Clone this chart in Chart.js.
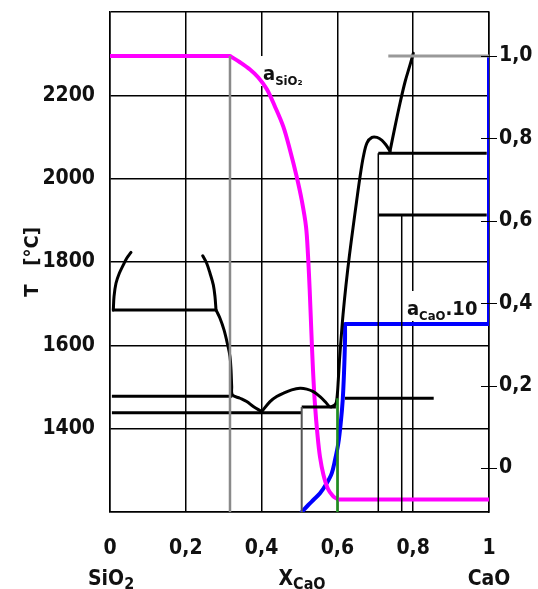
<!DOCTYPE html>
<html lang="ru">
<head>
	<meta charset="UTF-8" />
	<title>CaO - SiO2</title>
	<script src="https://cdn.jsdelivr.net/npm/chart.js"></script>
	<style>
		body { margin: 0; background: #fff; }
		canvas { display: block; }
	</style>
</head>
<body>
	<canvas id="myChart" width="538" height="589"></canvas>

	<script>
		// ticks
		const xTicks = [0, 0.2, 0.4, 0.6, 0.8, 1];
		const xTickLabels = ['0', '0,2', '0,4', '0,6', '0,8', '1'];
		const tempTicks = [1400, 1600, 1800, 2000, 2200];
		const actTicks = [0, 0.2, 0.4, 0.6, 0.8, 1.0];
		const actTickLabels = ['0', '0,2', '0,4', '0,6', '0,8', '1,0'];

		// phase diagram, [X_CaO, T degC]
		const gapLeft = [[0.0088, 1685], [0.0106, 1717], [0.0158, 1749], [0.0246, 1773], [0.0352, 1793], [0.0441, 1809], [0.0554, 1823]];
		const gapRight = [[0.2446, 1815], [0.2551, 1797], [0.2639, 1773], [0.2726, 1745], [0.2770, 1717], [0.2797, 1685]];
		const liqSilica = [[0.2797, 1685], [0.2902, 1665], [0.3008, 1637], [0.3095, 1605], [0.3166, 1573], [0.3193, 1541],
			[0.3211, 1501], [0.3227, 1481], [0.3430, 1473], [0.3607, 1465], [0.3781, 1453], [0.4003, 1441]];
		const dome = [[0.4003, 1441], [0.4222, 1465], [0.4398, 1477], [0.4573, 1485], [0.4794, 1493], [0.5013, 1497],
			[0.5190, 1495], [0.5364, 1489], [0.5541, 1477], [0.5673, 1465], [0.5786, 1453]];
		const liqLime = [[0.5831, 1452], [0.5950, 1459], [0.5989, 1474], [0.6024, 1517], [0.6055, 1565], [0.6095, 1613],
			[0.6148, 1673], [0.6227, 1745], [0.6319, 1817], [0.6412, 1882], [0.6504, 1944], [0.6596, 2004], [0.6683, 2052],
			[0.6781, 2086], [0.6913, 2099], [0.7045, 2099], [0.7177, 2092], [0.7282, 2081], [0.7388, 2066]];
		const liqCaO = [[0.7388, 2066], [0.7520, 2125], [0.7652, 2181], [0.7784, 2232], [0.7916, 2273], [0.8003, 2301]];
		const iso1685 = [[0.005, 1685], [0.2797, 1685]];
		const iso1478 = [[0.005, 1478], [0.3227, 1478]];
		const iso1438 = [[0.005, 1438], [0.5058, 1438]];
		const iso1452 = [[0.5058, 1452], [0.596, 1452]];
		const iso1473 = [[0.6201, 1473], [0.8541, 1473]];
		const iso2061 = [[0.7079, 2061], [0.994, 2061]];
		const iso1913 = [[0.7079, 1913], [0.994, 1913]];
		const vert050 = [[0.5058, 1452], [0.5058, 1200]];
		const vert071 = [[0.7079, 2061], [0.7079, 1200]];
		const vert077 = [[0.7697, 1913], [0.7697, 1200]];
		const greenLine = [[0.6, 1473], [0.6, 1200]];

		// activities, [X_CaO, a]
		const aSiO2 = [[0, 1.0], [0.3166, 1.0], [0.343, 0.9848], [0.3694, 0.9672], [0.3913, 0.9478], [0.4135, 0.9199],
			[0.4354, 0.8769], [0.4573, 0.8284], [0.4749, 0.7718], [0.4926, 0.707], [0.5058, 0.6505], [0.5172, 0.5857],
			[0.5224, 0.517], [0.5269, 0.432], [0.5311, 0.335], [0.5356, 0.2379], [0.5409, 0.1529], [0.5475, 0.0801],
			[0.5541, 0.0267], [0.5633, -0.017], [0.5752, -0.051], [0.5884, -0.068], [0.6016, -0.0765], [1.0, -0.0765]];
		const aCaOcurve = [[0.5058, -0.1068], [0.5232, -0.0898], [0.5364, -0.0777], [0.5541, -0.0614], [0.5718, -0.0371],
			[0.585, -0.0129], [0.5937, 0.0194], [0.6024, 0.06], [0.6087, 0.1085], [0.614, 0.165], [0.6174, 0.2299],
			[0.6201, 0.3107], [0.6201, 0.3495]];
		const aCaOstep = [[0.6201, 0.3495], [1.0, 0.3495], [1.0, 1.0]];
		const vert032 = [[0.3166, 1.0], [0.3166, -0.1068]];
		const topLine = [[0.7343, 1.0], [1.0, 1.0]];

		const FONT = 'DejaVu Sans Condensed';
		const INK = '#111';

		function line(points, color, width, extra) {
			return Object.assign({
				data: points.map(p => ({ x: p[0], y: p[1] })),
				borderColor: color,
				borderWidth: width,
				showLine: true,
				pointRadius: 0,
				tension: 0,
				fill: false,
				yAxisID: 'y'
			}, extra);
		}

		const curve = { tension: 0.35, borderCapStyle: 'round', borderJoinStyle: 'round' };

		// draws pieces of text one after another, [text, size, dy]
		function textParts(ctx, x, y, parts, draw) {
			let w = 0;
			parts.forEach(p => {
				ctx.font = 'bold ' + p[1] + 'px "' + FONT + '"';
				if (draw) ctx.fillText(p[0], x + w, y + p[2]);
				w += ctx.measureText(p[0]).width;
			});
			return w;
		}

		const siLabel = [['a', 20, 0], ['SiO₂', 13, 5]];
		const caLabel = [['a', 20, 0], ['CaO', 13, 5], ['.10', 20, 0]];

		const extras = {
			id: 'extras',
			beforeDatasetsDraw(chart) {
				const ctx = chart.ctx;
				const sx = chart.scales.x, sa = chart.scales.y2;
				ctx.save();
				ctx.fillStyle = '#fff';
				[[siLabel, 0.4037, 0.9417], [caLabel, 0.7836, 0.3714]].forEach(l => {
					const px = sx.getPixelForValue(l[1]);
					const py = sa.getPixelForValue(l[2]);
					const w = textParts(ctx, px, py, l[0], false);
					ctx.fillRect(px - 2, py - 24, w + 5, 30);
				});
				ctx.restore();
			},
			afterDraw(chart) {
				const ctx = chart.ctx;
				const sx = chart.scales.x, sa = chart.scales.y2;
				const area = chart.chartArea;
				ctx.save();
				ctx.fillStyle = INK;
				ctx.textBaseline = 'alphabetic';
				ctx.textAlign = 'left';
				[[siLabel, 0.4037, 0.9417], [caLabel, 0.7836, 0.3714]].forEach(l => {
					textParts(ctx, sx.getPixelForValue(l[1]), sa.getPixelForValue(l[2]), l[0], true);
				});

				// second row under the x axis
				const base = area.bottom + 73;
				textParts(ctx, sx.getPixelForValue(0) - 22, base, [['SiO', 21, 0], ['2', 16, 4]], true);
				textParts(ctx, sx.getPixelForValue(0.5) - 21, base, [['X', 21, 0], ['CaO', 16, 4]], true);
				ctx.font = 'bold 21px "' + FONT + '"';
				const w = ctx.measureText('CaO').width;
				ctx.fillText('CaO', sx.getPixelForValue(1) - w / 2, base);

				// small tick marks across the right axis
				ctx.strokeStyle = '#000';
				ctx.lineWidth = 1;
				actTicks.forEach(v => {
					const y = Math.round(sa.getPixelForValue(v)) + 0.5;
					ctx.beginPath();
					ctx.moveTo(area.right - 8, y);
					ctx.lineTo(area.right + 8, y);
					ctx.stroke();
				});
				ctx.restore();
			}
		};

		const datasets = [
			line(vert032, '#8a8a8a', 2.5, { yAxisID: 'y2' }),
			line(topLine, '#999', 3, { yAxisID: 'y2' }),
			line(vert050, '#555', 2),
			line(vert071, '#000', 1.5),
			line(vert077, '#000', 1.5),
			line(greenLine, '#1f8f1f', 2.5),
			line(iso1685, '#000', 3),
			line(iso1478, '#000', 3),
			line(iso1438, '#000', 3),
			line(iso1452, '#000', 3),
			line(iso1473, '#000', 3),
			line(iso2061, '#000', 3),
			line(iso1913, '#000', 3),
			line(gapLeft, '#000', 3, curve),
			line(gapRight, '#000', 3, curve),
			line(liqSilica, '#000', 3, curve),
			line(dome, '#000', 3, curve),
			line(liqLime, '#000', 3, curve),
			line(liqCaO, '#000', 3, curve),
			// flat part and the falling part of a_SiO2 are drawn apart, so the corner stays sharp
			line(aSiO2.slice(0, 2), '#ff00ff', 4, { yAxisID: 'y2' }),
			line(aSiO2.slice(1, -1), '#ff00ff', 4, Object.assign({}, curve, { yAxisID: 'y2' })),
			line(aSiO2.slice(-2), '#ff00ff', 4, { yAxisID: 'y2' }),
			line(aCaOcurve, '#0000ff', 4, Object.assign({}, curve, { yAxisID: 'y2' })),
			line(aCaOstep, '#0000ff', 4, { yAxisID: 'y2' })
		];

		const tickFont = { family: FONT, size: 21, weight: 'bold' };

		const ctx = document.getElementById('myChart').getContext('2d');
		const myChart = new Chart(ctx, {
			type: 'scatter',
			data: { datasets: datasets },
			options: {
				responsive: false,
				animation: false,
				events: [],
				layout: { padding: { top: 12, left: 0, right: 0, bottom: 0 } },
				plugins: {
					legend: { display: false },
					tooltip: { enabled: false }
				},
				scales: {
					x: {
						type: 'linear',
						min: 0,
						max: 1,
						afterFit: s => { s.height = 77; s.paddingLeft = 0; s.paddingRight = 0; },
						afterBuildTicks: s => { s.ticks = xTicks.map(v => ({ value: v })); },
						ticks: {
							callback: (v, i) => xTickLabels[i],
							color: INK,
							font: tickFont,
							padding: 24,
							maxRotation: 0,
							autoSkip: false
						},
						grid: { color: '#000', lineWidth: 1.5, drawTicks: false },
						border: { color: '#000', width: 1.5 }
					},
					y: {
						type: 'linear',
						position: 'left',
						min: 1200,
						max: 2400,
						afterFit: s => { s.width = 110; s.paddingTop = 0; s.paddingBottom = 0; },
						afterBuildTicks: s => { s.ticks = [1200].concat(tempTicks, [2400]).map(v => ({ value: v })); },
						ticks: {
							callback: v => tempTicks.includes(v) ? String(v) : '',
							color: INK,
							font: tickFont,
							padding: 15
						},
						grid: { color: '#000', lineWidth: 1.5, drawTicks: false },
						border: { color: '#000', width: 1.5 },
						title: {
							display: true,
							text: 'T   [°C]',
							color: INK,
							font: { family: FONT, size: 20, weight: 'bold' },
							padding: { top: 21, bottom: 0 }
						}
					},
					y2: {
						type: 'linear',
						position: 'right',
						min: -0.1068,
						max: 1.1068,
						afterFit: s => { s.width = 49; s.paddingTop = 0; s.paddingBottom = 0; },
						afterBuildTicks: s => { s.ticks = actTicks.map(v => ({ value: v })); },
						ticks: {
							callback: (v, i) => actTickLabels[i],
							color: INK,
							font: tickFont,
							padding: 10
						},
						grid: { drawOnChartArea: false, drawTicks: false },
						border: { color: '#000', width: 1.5 }
					}
				}
			},
			plugins: [extras]
		});
	</script>
</body>
</html>
